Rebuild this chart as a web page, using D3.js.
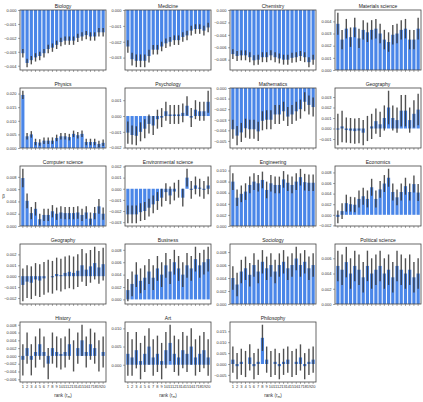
<!DOCTYPE html>
<html>
<head>
<meta charset="utf-8">
<script src="https://cdn.jsdelivr.net/npm/d3@7"></script>
<style>
body{margin:0;background:#fff;}
svg{display:block;font-family:"Liberation Sans",Arial,sans-serif;}
</style>
</head>
<body>
<svg width="423" height="402"></svg>
<script>
// ranks on x
var ranks = d3.range(1, 21);

var titles = ["Biology","Medicine","Chemistry","Materials science",
              "Physics","Psychology","Mathematics","Geography",
              "Computer science","Environmental science","Engineering","Economics",
              "Geography","Business","Sociology","Political science",
              "History","Art","Philosophy"];

// mean values per field
var biology   = [-0.0031,-0.0038,-0.0036,-0.0034,-0.0033,-0.0031,-0.0028,-0.0027,-0.0025,-0.0023,-0.0022,-0.0022,-0.0022,-0.0020,-0.0019,-0.0018,-0.0019,-0.0019,-0.0016,-0.0016];
var medicine  = [-0.0023,-0.0031,-0.0032,-0.0032,-0.0032,-0.0029,-0.0025,-0.0025,-0.0023,-0.0021,-0.0020,-0.0019,-0.0019,-0.0017,-0.0016,-0.0013,-0.0012,-0.0012,-0.0013,-0.0011];
var chemistry = [-0.0071,-0.0074,-0.0073,-0.0073,-0.0076,-0.0081,-0.0080,-0.0076,-0.0076,-0.0073,-0.0076,-0.0078,-0.0080,-0.0080,-0.0077,-0.0076,-0.0074,-0.0076,-0.0084,-0.0080];
var materials = [0.0038,0.0025,0.0034,0.0027,0.0035,0.0026,0.0033,0.0031,0.0033,0.0034,0.0030,0.0025,0.0023,0.0029,0.0030,0.0033,0.0034,0.0025,0.0025,0.0034];
var physics   = [0.0195,0.0043,0.0050,0.0022,0.0020,0.0027,0.0027,0.0027,0.0037,0.0043,0.0043,0.0040,0.0052,0.0047,0.0052,0.0022,0.0022,0.0022,0.0015,0.0019];
var psychology= [-0.00105,-0.0012,-0.00125,-0.0010,-0.0008,-0.0005,-0.0006,-0.0002,-0.0001,0.0003,0.0001,0.0001,0.0001,0.0002,0.00065,-0.0001,0.0004,0.0003,0.0003,0.0009];
var mathematics=[-0.0039,-0.0045,-0.0042,-0.0038,-0.0039,-0.0039,-0.0041,-0.0031,-0.0030,-0.0030,-0.0025,-0.0025,-0.0022,-0.0027,-0.0025,-0.0022,-0.0020,-0.0013,-0.0016,-0.0018];
var geography1= [-0.0001,0.0002,-0.00015,-0.0002,-0.00025,-0.0002,-0.0004,0.0000,0.0002,0.0007,0.0004,0.0010,0.0020,0.0010,0.0008,0.0017,0.0017,0.0008,0.0014,0.0018];
var compsci   = [0.0078,0.0041,0.0021,0.0028,0.0011,0.0018,0.0018,0.0024,0.0020,0.0022,0.0021,0.0021,0.0021,0.0022,0.0018,0.0022,0.0012,0.0021,0.0032,0.0020];
var envsci    = [-0.0023,-0.0023,-0.0023,-0.0021,-0.0020,-0.0017,-0.0014,-0.0011,-0.0008,-0.0003,-0.0006,-0.00025,0.0000,-0.0008,0.0010,-0.0001,0.0003,0.0001,-0.0001,0.0003];
var engineering=[0.0080,0.0051,0.0058,0.0062,0.0074,0.0080,0.0077,0.0083,0.0065,0.0077,0.0074,0.0074,0.0084,0.0078,0.0074,0.0080,0.0088,0.0079,0.0078,0.0078];
var economics = [-0.0004,0.0007,0.0022,0.0020,0.0019,0.0030,0.0035,0.0030,0.0052,0.0030,0.0048,0.0059,0.0070,0.0043,0.0033,0.0043,0.0054,0.0043,0.0058,0.0042];
var geography2= [-0.0008,-0.0005,-0.0006,-0.0003,-0.0004,-0.0002,0.0000,-0.0001,0.0002,0.0001,0.0003,0.0004,0.0003,0.0005,0.0010,0.0006,0.0009,0.0012,0.0008,0.0011];
var business  = [0.0015,0.0025,0.0040,0.0030,0.0035,0.0045,0.0035,0.0050,0.0040,0.0055,0.0045,0.0060,0.0050,0.0040,0.0055,0.0050,0.0065,0.0055,0.0060,0.0065];
var sociology = [0.0040,0.0030,0.0050,0.0055,0.0045,0.0060,0.0050,0.0065,0.0055,0.0060,0.0050,0.0060,0.0065,0.0055,0.0060,0.0070,0.0060,0.0065,0.0055,0.0060];
var polsci    = [0.0050,0.0045,0.0055,0.0040,0.0050,0.0045,0.0035,0.0050,0.0040,0.0045,0.0050,0.0040,0.0045,0.0035,0.0050,0.0045,0.0040,0.0045,0.0035,0.0040];
var historyVals=[-0.0010,0.0020,-0.0010,0.0010,0.0030,0.0010,-0.0020,0.0020,0.0010,0.0005,0.0010,0.0030,0.0000,0.0020,0.0040,0.0010,0.0030,0.0020,0.0000,0.0010];
var art       = [0.0030,0.0020,0.0040,0.0010,0.0030,0.0050,0.0020,0.0030,0.0010,0.0040,0.0060,0.0030,0.0020,0.0040,0.0030,0.0050,0.0020,0.0030,0.0040,0.0020];
var philosophy= [0.0020,-0.0010,0.0010,0.0000,0.0030,-0.0010,0.0010,0.0120,0.0020,0.0000,0.0010,-0.0010,0.0010,0.0020,0.0000,0.0010,0.0030,-0.0010,0.0010,0.0020];

// error bar half widths
var biologyErr   = [0.0003,0.0003,0.0003,0.0003,0.0003,0.0003,0.0003,0.0003,0.0003,0.0003,0.0003,0.0003,0.0003,0.0003,0.0003,0.0003,0.0003,0.0003,0.0003,0.0003];
var medicineErr  = [0.0004,0.0004,0.0004,0.0004,0.0004,0.0004,0.0003,0.0003,0.0003,0.0003,0.0003,0.0003,0.0003,0.0003,0.0003,0.0003,0.0003,0.0003,0.0003,0.0003];
var chemistryErr = [0.0008,0.0008,0.0008,0.0008,0.0008,0.0008,0.0008,0.0008,0.0008,0.0008,0.0008,0.0008,0.0008,0.0008,0.0008,0.0008,0.0008,0.0008,0.0008,0.0008];
var materialsErr = [0.0009,0.0008,0.0008,0.0008,0.0008,0.0008,0.0008,0.0008,0.0008,0.0008,0.0008,0.0008,0.0008,0.0008,0.0008,0.0008,0.0008,0.0008,0.0008,0.0009];
var physicsErr   = [0.0015,0.0012,0.0012,0.0012,0.0012,0.0012,0.0012,0.0012,0.0012,0.0012,0.0012,0.0012,0.0012,0.0012,0.0012,0.0012,0.0012,0.0012,0.0012,0.0012];
var psychologyErr= [0.0007,0.0006,0.0006,0.0006,0.0006,0.0006,0.0006,0.0006,0.0006,0.0006,0.0006,0.0006,0.0006,0.0006,0.0006,0.0006,0.0006,0.0006,0.0006,0.0007];
var mathematicsErr=[0.0009,0.0009,0.0009,0.0009,0.0009,0.0009,0.0009,0.0009,0.0009,0.0009,0.0009,0.0009,0.0009,0.0009,0.0009,0.0009,0.0009,0.0009,0.0009,0.0009];
var geography1Err= [0.0015,0.0015,0.0012,0.0012,0.0012,0.0012,0.0012,0.0012,0.0012,0.0012,0.0012,0.0012,0.0016,0.0012,0.0012,0.0015,0.0015,0.0012,0.0013,0.0015];
var compsciErr   = [0.0015,0.0012,0.0010,0.0011,0.0009,0.0010,0.0010,0.0010,0.0010,0.0010,0.0010,0.0010,0.0010,0.0010,0.0010,0.0010,0.0010,0.0010,0.0012,0.0010];
var envsciErr    = [0.0008,0.0008,0.0008,0.0008,0.0008,0.0008,0.0008,0.0008,0.0008,0.0008,0.0008,0.0008,0.0008,0.0008,0.0008,0.0008,0.0008,0.0008,0.0008,0.0008];
var engineeringErr=[0.0015,0.0015,0.0015,0.0015,0.0015,0.0015,0.0015,0.0015,0.0015,0.0015,0.0015,0.0015,0.0015,0.0015,0.0015,0.0015,0.0015,0.0015,0.0015,0.0015];
var economicsErr = [0.0012,0.0015,0.0016,0.0014,0.0014,0.0016,0.0016,0.0016,0.0016,0.0016,0.0016,0.0016,0.0017,0.0016,0.0015,0.0016,0.0016,0.0016,0.0016,0.0016];
var geography2Err= [0.0015,0.0015,0.0015,0.0015,0.0015,0.0015,0.0015,0.0015,0.0015,0.0015,0.0015,0.0015,0.0015,0.0015,0.0015,0.0015,0.0015,0.0015,0.0015,0.0015];
var businessErr  = [0.0018,0.0020,0.0020,0.0020,0.0020,0.0020,0.0020,0.0020,0.0020,0.0020,0.0020,0.0020,0.0020,0.0020,0.0020,0.0020,0.0020,0.0020,0.0020,0.0020];
var sociologyErr = [0.0018,0.0018,0.0018,0.0018,0.0018,0.0018,0.0018,0.0018,0.0018,0.0018,0.0018,0.0018,0.0018,0.0018,0.0018,0.0018,0.0018,0.0018,0.0018,0.0018];
var polsciErr    = [0.0020,0.0020,0.0020,0.0020,0.0020,0.0020,0.0020,0.0020,0.0020,0.0020,0.0020,0.0020,0.0020,0.0020,0.0020,0.0020,0.0020,0.0020,0.0020,0.0020];
var historyErr   = [0.0040,0.0040,0.0040,0.0040,0.0040,0.0040,0.0040,0.0040,0.0040,0.0040,0.0040,0.0040,0.0040,0.0040,0.0040,0.0040,0.0040,0.0040,0.0040,0.0040];
var artErr       = [0.0060,0.0050,0.0050,0.0050,0.0050,0.0050,0.0050,0.0050,0.0050,0.0050,0.0050,0.0050,0.0050,0.0050,0.0050,0.0050,0.0050,0.0050,0.0050,0.0050];
var philosophyErr= [0.0060,0.0060,0.0060,0.0060,0.0060,0.0060,0.0060,0.0060,0.0060,0.0060,0.0060,0.0060,0.0060,0.0060,0.0060,0.0060,0.0060,0.0060,0.0060,0.0060];

var values = [biology,medicine,chemistry,materials,physics,psychology,mathematics,geography1,
              compsci,envsci,engineering,economics,geography2,business,sociology,polsci,
              historyVals,art,philosophy];
var errors = [biologyErr,medicineErr,chemistryErr,materialsErr,physicsErr,psychologyErr,mathematicsErr,geography1Err,
              compsciErr,envsciErr,engineeringErr,economicsErr,geography2Err,businessErr,sociologyErr,polsciErr,
              historyErr,artErr,philosophyErr];

var colX = [20,125,230,335];
var rowY = [10,88,166,244,322];
var pw = 86, ph = 60;
var barColor = "#4a86e8";

var svg = d3.select("svg");

titles.forEach(function(t, i){
    var col = i % 4, row = Math.floor(i / 4);
    var g = svg.append("g").attr("transform","translate("+colX[col]+","+rowY[row]+")");
    var vals = values[i], errs = errors[i];

    var lo = d3.min(vals, function(v,k){return v-errs[k];});
    var hi = d3.max(vals, function(v,k){return v+errs[k];});
    lo = Math.min(0, lo); hi = Math.max(0, hi);
    var pad = (hi-lo)*0.05;
    if(lo < 0) lo -= pad;
    if(hi > 0) hi += pad;

    var x = d3.scaleBand().domain(ranks).range([0,pw]).paddingInner(0.25).paddingOuter(0.3);
    var y = d3.scaleLinear().domain([lo,hi]).range([ph,0]);

    g.selectAll(".bar").data(vals).enter().append("rect")
        .attr("x", function(d,k){return x(ranks[k]);})
        .attr("width", x.bandwidth())
        .attr("y", function(d){return y(Math.max(0,d));})
        .attr("height", function(d){return Math.abs(y(d)-y(0));})
        .attr("fill", barColor);

    g.selectAll(".err").data(vals).enter().append("line")
        .attr("x1", function(d,k){return x(ranks[k])+x.bandwidth()/2;})
        .attr("x2", function(d,k){return x(ranks[k])+x.bandwidth()/2;})
        .attr("y1", function(d,k){return y(d-errs[k]);})
        .attr("y2", function(d,k){return y(d+errs[k]);})
        .attr("stroke","#333").attr("stroke-opacity",0.85).attr("stroke-width",1.4);

    var tks = y.ticks(5);
    var step = tks.length > 1 ? tks[1]-tks[0] : 0.001;
    var yAxis = d3.axisLeft(y).tickValues(tks).tickSize(2).tickPadding(1.5)
        .tickFormat(d3.format("."+d3.precisionFixed(step)+"f"));
    var ya = g.append("g").call(yAxis);
    ya.select(".domain").remove();
    ya.selectAll("text").attr("font-size",4).attr("fill","#333");
    ya.selectAll("line").attr("stroke","#555").attr("stroke-width",0.5);

    var xAxis = d3.axisBottom(x).tickSize(2).tickPadding(1.5);
    var xa = g.append("g").attr("transform","translate(0,"+ph+")").call(xAxis);
    xa.select(".domain").remove();
    xa.selectAll("line").attr("stroke","#555").attr("stroke-width",0.5);
    if(row === 4){
        xa.selectAll("text").attr("font-size",4).attr("fill","#333");
        var lab = g.append("text").attr("x",pw/2).attr("y",ph+15)
            .attr("text-anchor","middle").attr("font-size",4.6).attr("fill","#333");
        lab.append("tspan").text("rank (r");
        lab.append("tspan").attr("font-size",3.4).attr("dy",1).text("m");
        lab.append("tspan").attr("dy",-1).text(")");
    } else {
        xa.selectAll("text").remove();
    }

    g.append("rect").attr("width",pw).attr("height",ph)
        .attr("fill","none").attr("stroke","#444").attr("stroke-width",0.8);

    g.append("text").attr("x",pw/2).attr("y",-2.5).attr("text-anchor","middle")
        .attr("font-size",5).attr("fill","#222").text(t);
});

svg.append("text").attr("x",3.5).attr("y",198).attr("text-anchor","middle")
    .attr("font-size",4.6).attr("fill","#333").text("β");
</script>
</body>
</html>
